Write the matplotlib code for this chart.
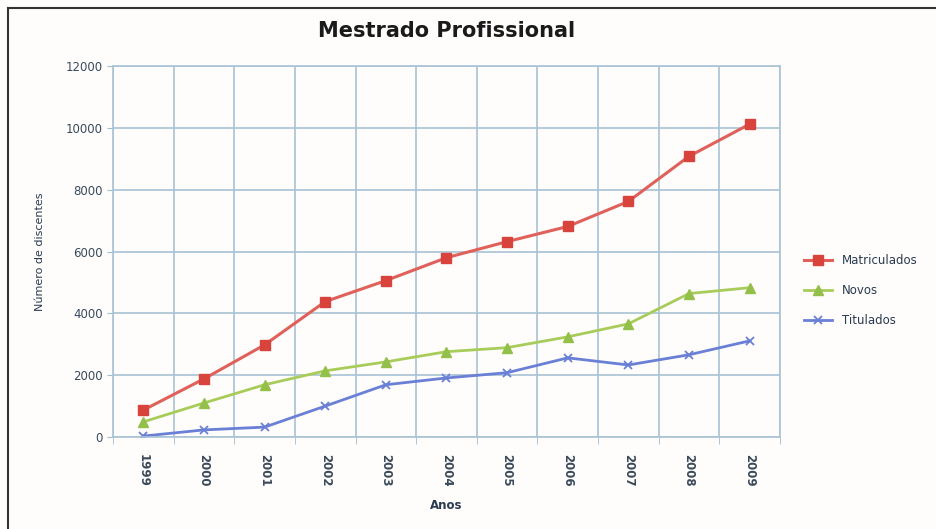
import matplotlib
matplotlib.use("Agg")
import matplotlib.pyplot as plt
from matplotlib.lines import Line2D

# student counts per year, professional master's programmes
anos = ["1999", "2000", "2001", "2002", "2003", "2004", "2005", "2006", "2007", "2008", "2009"]
matriculados = [870, 1880, 2980, 4380, 5060, 5800, 6320, 6810, 7620, 9080, 10120]
novos = [490, 1100, 1690, 2140, 2430, 2760, 2890, 3240, 3660, 4640, 4830]
titulados = [30, 230, 320, 1000, 1690, 1910, 2080, 2560, 2330, 2660, 3110]

fig = plt.figure(figsize=(9.37, 5.29), dpi=100)
fig.patch.set_facecolor("#fefdfc")
ax = fig.add_axes([0.1206, 0.1739, 0.7118, 0.7013])
ax.set_facecolor("#fefdfc")

x = list(range(len(anos)))
ax.plot(x, matriculados, color="#e0605a", lw=2.2, marker="s", ms=7,
        mfc="#d8433c", mec="#d8433c", label="Matriculados")
ax.plot(x, novos, color="#a8cc5a", lw=2.0, marker="^", ms=6.5,
        mfc="#93c048", mec="#93c048", label="Novos")
ax.plot(x, titulados, color="#6a7fd6", lw=2.0, marker="x", ms=6,
        mew=1.3, label="Titulados")

ax.set_xlim(-0.5, len(anos) - 0.5)
ax.set_ylim(0, 12000)
ax.set_yticks(range(0, 12001, 2000))
ax.set_xticks(x)
ax.set_xticklabels(anos, rotation=-90, fontsize=8.5, fontweight="bold", color="#3a4a5a")
ax.set_xticks([i - 0.5 for i in range(len(anos) + 1)], minor=True)
ax.tick_params(axis="y", labelsize=8.5, colors="#3a4a5a", length=4, color="#9fbcd0")
ax.tick_params(axis="x", which="major", length=0, pad=12)
ax.tick_params(axis="x", which="minor", length=5, color="#9fbcd0")

ax.grid(True, axis="y", color="#a9c3d5", lw=1.2)
ax.grid(True, axis="x", which="minor", color="#a9c3d5", lw=1.2)
ax.grid(False, axis="x", which="major")
ax.set_axisbelow(True)
for s in ax.spines.values():
    s.set_color("#a9c3d5")
    s.set_linewidth(1.2)

ax.set_title("Mestrado Profissional", fontsize=15, fontweight="bold",
             color="#1a1a1a", pad=21)
ax.set_ylabel("Número de discentes", fontsize=8, color="#2a3a50", labelpad=15)
ax.set_xlabel("Anos", fontsize=8.5, fontweight="bold", color="#2a3a50", labelpad=9)

ax.legend(loc="center left", bbox_to_anchor=(1.02, 0.394), frameon=False,
          fontsize=8.5, labelcolor="#2a3a50", handlelength=2.4, labelspacing=1.45)

# frame around the chart area
fig.add_artist(Line2D([0.0085, 0.0085], [0, 0.985], color="#333333", lw=1.5,
                      transform=fig.transFigure))
fig.add_artist(Line2D([0.0085, 1], [0.985, 0.985], color="#333333", lw=1.5,
                      transform=fig.transFigure))

fig.savefig("out.png", dpi=100)
